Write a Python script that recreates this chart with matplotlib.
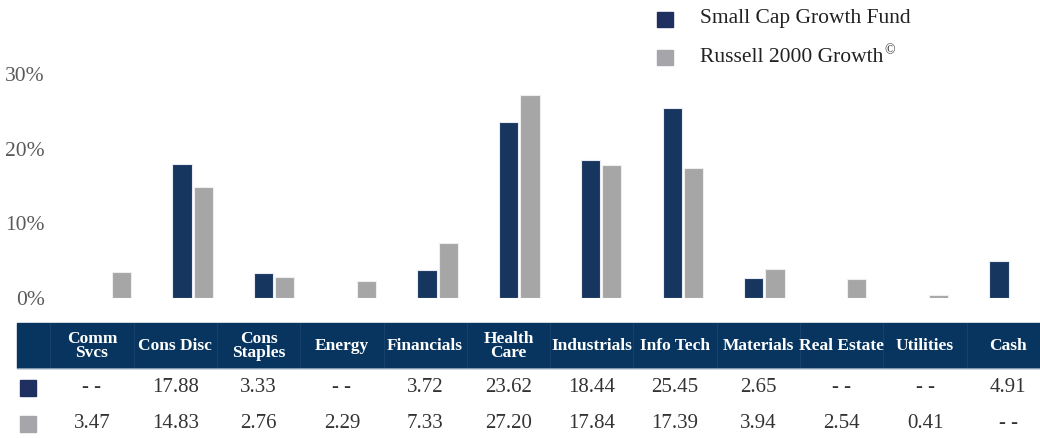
import matplotlib
matplotlib.use('Agg')
import matplotlib.pyplot as plt
import numpy as np
from matplotlib.patches import Rectangle

# Data
sectors = ["Comm Svcs", "Cons Disc", "Cons Staples", "Energy", "Financials", "Health Care",
           "Industrials", "Info Tech", "Materials", "Real Estate", "Utilities", "Cash"]
header_labels = ["Comm\nSvcs", "Cons Disc", "Cons\nStaples", "Energy", "Financials", "Health\nCare",
                 "Industrials", "Info Tech", "Materials", "Real Estate", "Utilities", "Cash"]
fund = [np.nan, 17.88, 3.33, np.nan, 3.72, 23.62, 18.44, 25.45, 2.65, np.nan, np.nan, 4.91]
index = [3.47, 14.83, 2.76, 2.29, 7.33, 27.20, 17.84, 17.39, 3.94, 2.54, 0.41, np.nan]
series_names = ["Small Cap Growth Fund", "Russell 2000 Growth"]
series_marks = ["", "\u00a9"]
yticks = [0, 10, 20, 30]

navy = "#16365F"
gray = "#A6A6A6"
header_bg = "#07355F"

plt.rcParams['font.family'] = ['Liberation Serif', 'DejaVu Serif']

W, H = 1040, 438
fig = plt.figure(figsize=(W / 100, H / 100), dpi=100)

# ---- bar chart ----
px_per_cat = 81.7
ax_left, ax_right = 70, 1040
ymax = 35
px_per_pct = 7.467
ax_bottom_px = 298
ax = fig.add_axes([ax_left / W, 1 - ax_bottom_px / H,
                   (ax_right - ax_left) / W, ymax * px_per_pct / H])
x = np.arange(len(sectors))
off = 0.13
bw = 0.235
ax.bar(x - off, np.nan_to_num(fund), bw, color=navy, edgecolor='#E8ECF2', linewidth=0.8)
ax.bar(x + off, np.nan_to_num(index), bw, color=gray, edgecolor='#EEEEEE', linewidth=0.8)
ax.set_xlim(-0.5, -0.5 + (ax_right - ax_left) / px_per_cat)
ax.set_ylim(0, ymax)
ax.set_yticks(yticks)
ax.set_yticklabels([f"{t}%" for t in yticks], fontsize=15.5, color="#5A5A5A")
ax.tick_params(axis='y', length=0, pad=18)
ax.set_xticks([])
for s in ax.spines.values():
    s.set_visible(False)

# ---- legend & table (pixel coordinates) ----
ov = fig.add_axes([0, 0, 1, 1])
ov.set_xlim(0, W)
ov.set_ylim(H, 0)
ov.axis('off')
ov.patch.set_alpha(0)

leg_colors = ["#1F2F5F", "#A6A6AA"]
for i, (name, mark, c) in enumerate(zip(series_names, series_marks, leg_colors)):
    yc = 19 + i * 38.5
    ov.add_patch(Rectangle((657, yc - 7.5), 16, 15, color=c))
    t = ov.text(700, yc, name, fontsize=15.5, color="#222222", va='center', ha='left')
    if mark:
        ov.annotate(mark, xy=(1, 0.85), xycoords=t, xytext=(0.5, 0),
                    textcoords='offset points', fontsize=10, color="#222222",
                    va='center', ha='left')

# header band
ov.add_patch(Rectangle((17, 323), W - 17, 45, color=header_bg))
col0, col_w = 92, 83.3
for i in range(len(sectors) + 1):
    xs = col0 - col_w / 2 + i * col_w
    ov.plot([xs, xs], [323, 368], color="#1E4670", lw=0.5)
ov.plot([17, W], [368, 368], color="#B8C4D4", lw=0.5)
for i, lab in enumerate(header_labels):
    ov.text(col0 + i * col_w, 346, lab, fontsize=12.5, fontweight='bold', color='white',
            ha='center', va='center', linespacing=0.8)

# data rows
for r, (vals, c) in enumerate(zip([fund, index], leg_colors)):
    yc = 388 + r * 36
    ov.add_patch(Rectangle((20, yc - 8), 16, 16, color=c))
    for i, v in enumerate(vals):
        txt = "- -" if np.isnan(v) else f"{v:.2f}"
        ov.text(col0 + i * col_w, yc, txt, fontsize=15, color="#333333",
                ha='center', va='center')

fig.savefig("out.png", dpi=100)
